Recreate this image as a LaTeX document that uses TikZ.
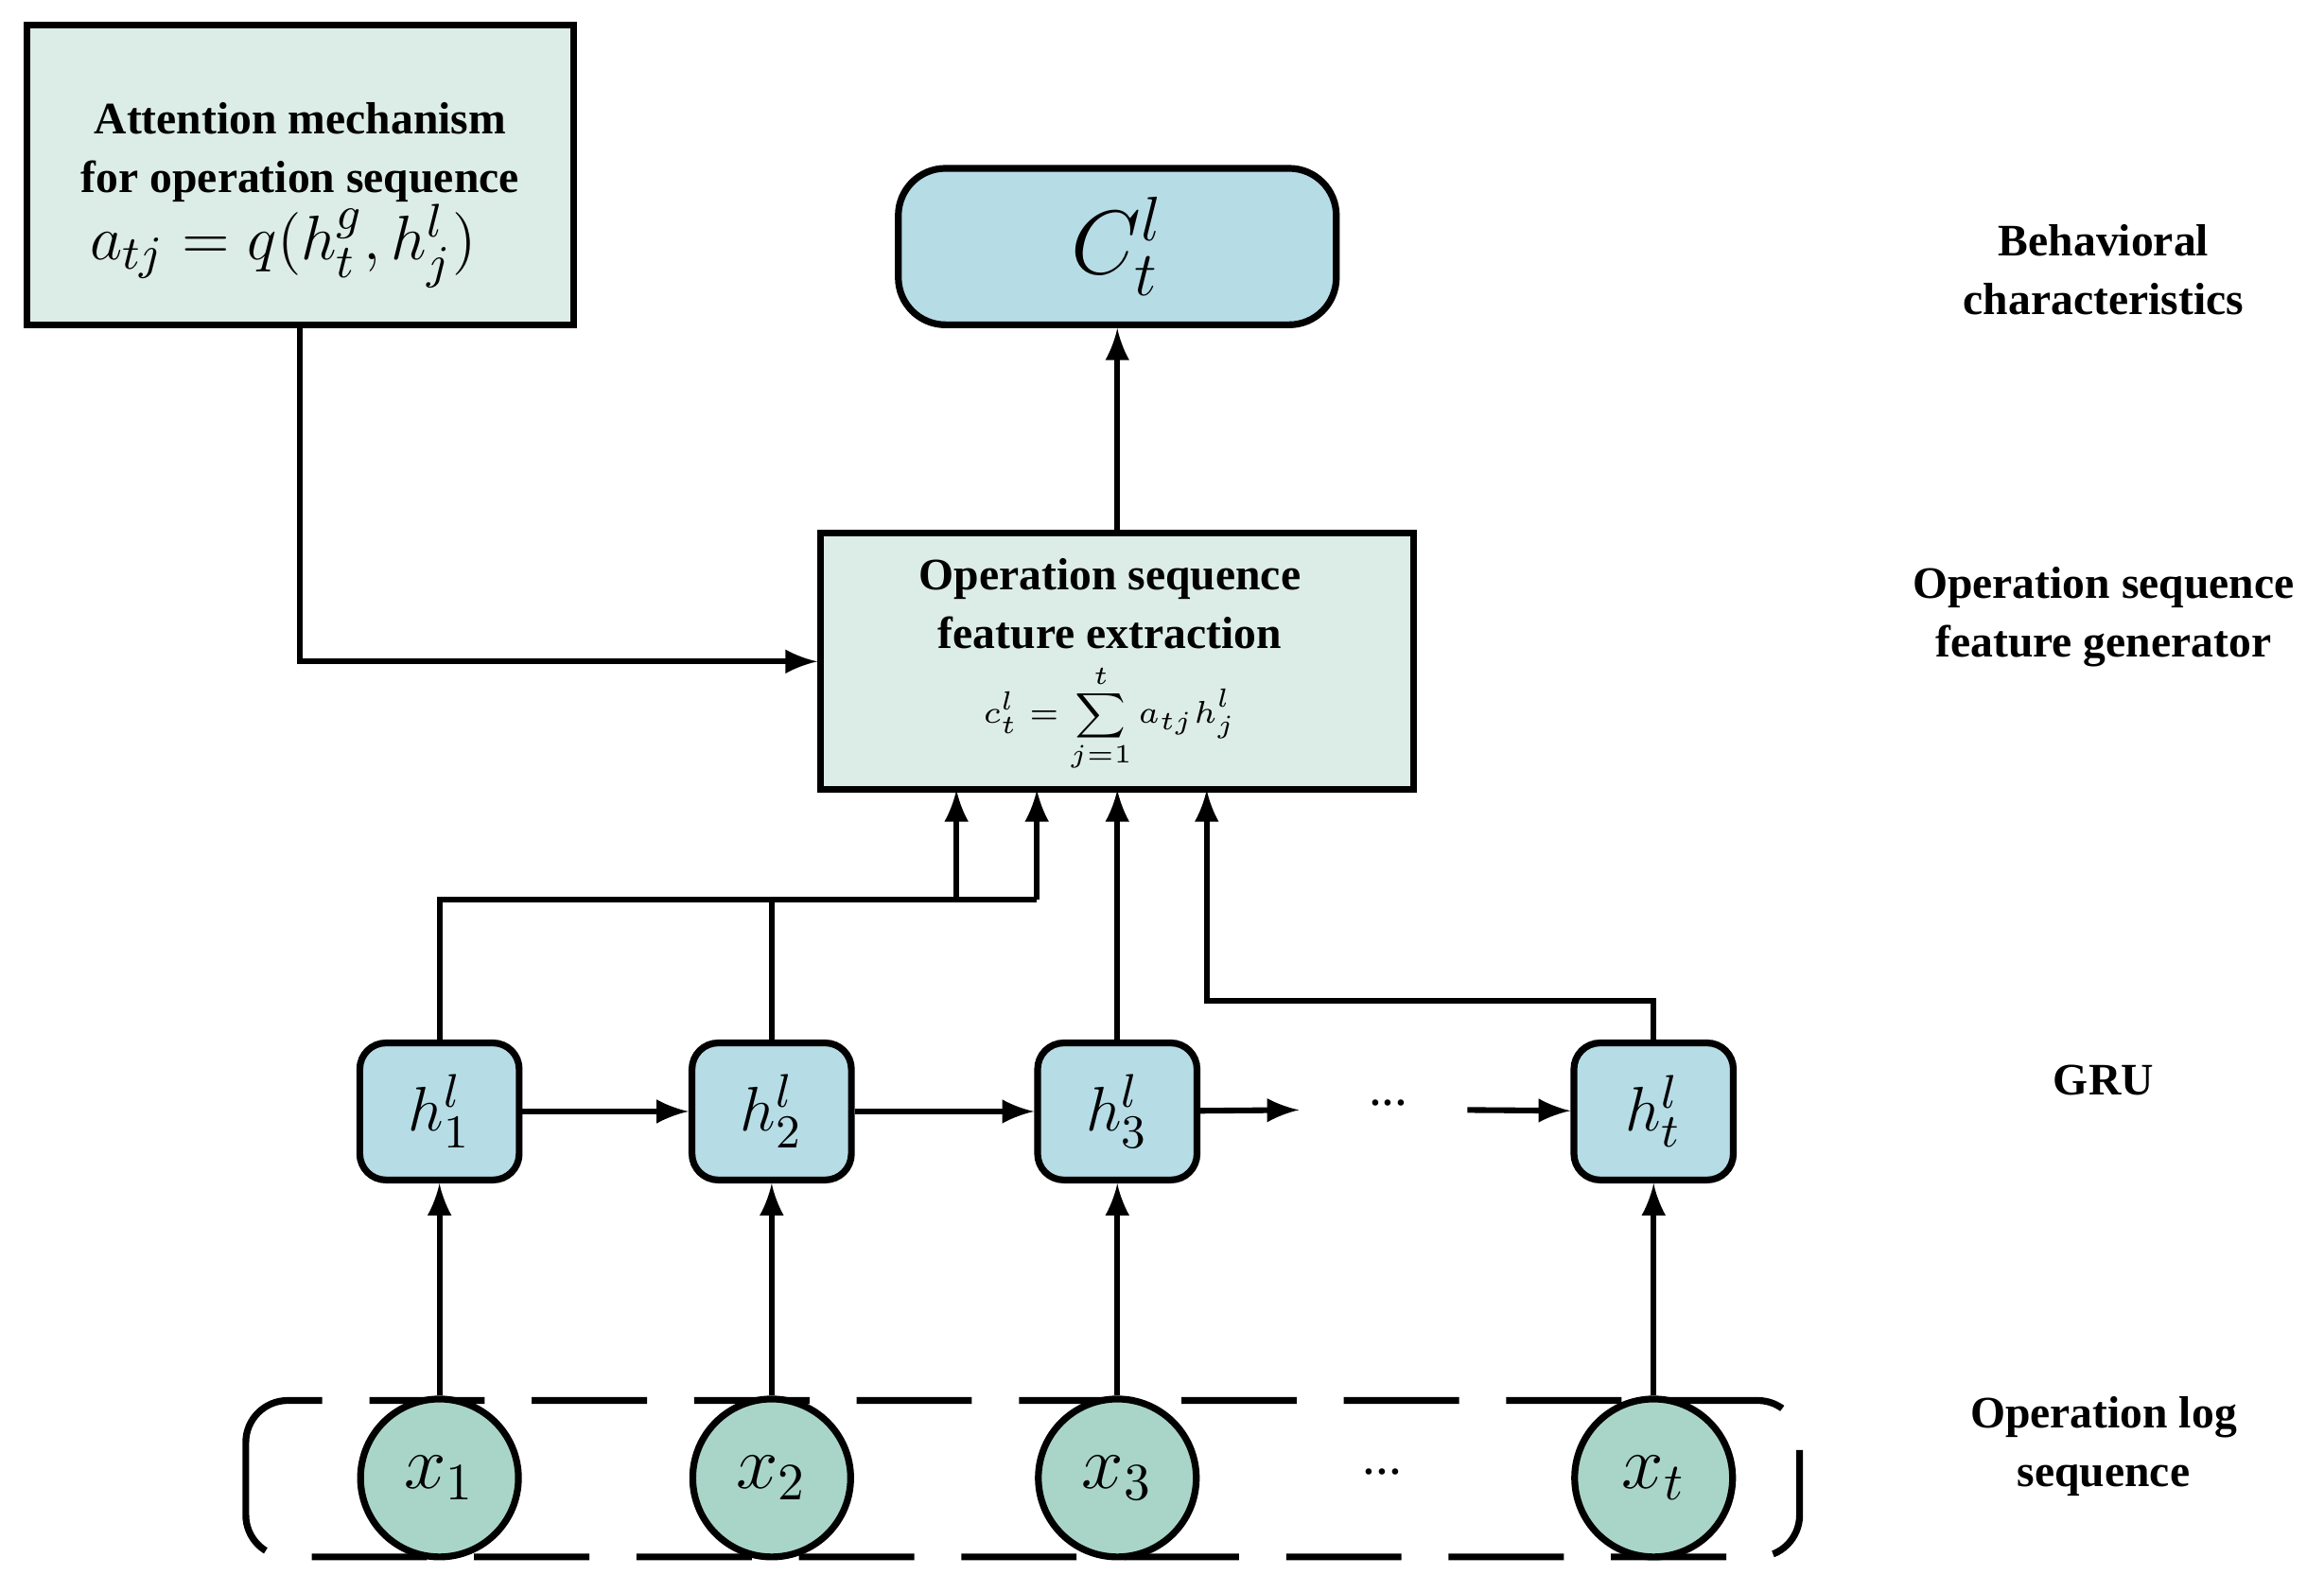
\documentclass[tikz,border=0pt]{standalone}
\usepackage{fontspec}
\setmainfont{Liberation Serif}
\usepackage{amsmath}
\begin{document}
\begin{tikzpicture}[x=0.01cm,y=-0.01cm,line width=1.1pt,
 box/.style={draw,fill=mint,line width=1.3pt},
 lab/.style={font=\bfseries\fontsize{8.6}{11.2}\selectfont,align=center},
 arr/.style={-latex}]
\definecolor{mint}{HTML}{DCECE6}
\definecolor{lblue}{HTML}{B6DCE6}
\definecolor{ct}{HTML}{A9D5C8}
\useasboundingbox (0,0) rectangle (1560,1057);
% boxes
\node[box,minimum width=367*0.01cm,minimum height=201*0.01cm] (att) at (201.5,117.5) {};
\node[lab,anchor=north] at (201.5,55) {Attention mechanism\\for operation sequence};
\node at (190,165) {\fontsize{13}{15}\selectfont $a_{tj}=q(h_t^g,h_j^l)$};
\node[draw,fill=lblue,rounded corners=9pt,line width=1.3pt,minimum width=294*0.01cm,minimum height=105*0.01cm] (C) at (750,165.5) {\fontsize{18}{22}\selectfont $C_t^l$};
\node[box,minimum width=398*0.01cm,minimum height=172*0.01cm] (F) at (750,444) {};
\node[lab,anchor=north] at (745,361) {Operation sequence\\feature extraction};
\node at (745,482) {\fontsize{6}{7}\selectfont $c_t^l=\displaystyle\sum_{j=1}^{t}a_{tj}h_j^l$};
% GRU
\foreach \n/\x/\s in {h1/295/1,h2/518/2,h3/750/3,ht/1110/t}{
 \node[draw,fill=lblue,rounded corners=5pt,line width=1.3pt,minimum width=107*0.01cm,minimum height=92*0.01cm,inner sep=0] (\n) at (\x,746) {\fontsize{13}{15}\selectfont $h_{\s}^l$};
}
\draw[dash pattern=on 22pt off 9pt,line width=1.3pt,rounded corners=8pt] (165,940) rectangle (1208,1045);
\foreach \n/\x/\s in {x1/295/1,x2/518/2,x3/750/3,xt/1110/t}{
 \node[draw,circle,fill=ct,line width=1.3pt,minimum size=106*0.01cm,inner sep=0] (\n) at (\x,992) {\fontsize{14}{16}\selectfont $x_{\s}$};
 \draw[arr] (\n) -- (h\s.south -| \n);
}
\draw[arr] (h1) -- (h2);
\draw[arr] (h2) -- (h3);
\coordinate (d1) at (872,745); \coordinate (d2) at (1055,745); \coordinate (d0) at (985,745);
\draw[arr] (h3) -- (d1);
\draw[arr] (d0) -- (ht);
\node at (932,740) {...};
\node at (928,988) {...};
% to feature
\draw[arr] (att.south) |- (F.west);
\draw[arr] (F.north) -- (C.south);
\draw (h1.north) -- (295,604) -- (696,604);
\draw (h2.north) -- (518,604);
\draw[arr] (642,604) -- (642,530);
\draw[arr] (696,604) -- (696,530);
\draw[arr] (h3.north) -- (750,530);
\draw[arr] (ht.north) -- (1110,672) -- (810,672) -- (810,530);
% right labels
\node[lab] at (1412,181) {Behavioral\\characteristics};
\node[lab] at (1412,414) {Operation sequence\\feature generator};
\node[lab] at (1412,725) {GRU};
\node[lab] at (1412,971) {Operation log\\sequence};
\end{tikzpicture}
\end{document}
